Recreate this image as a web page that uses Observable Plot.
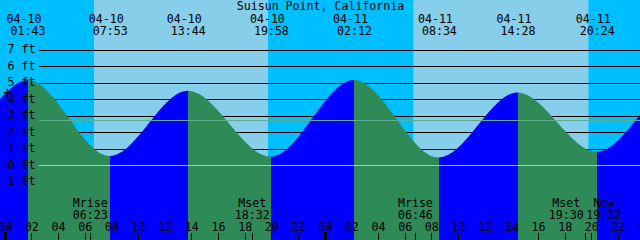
<!DOCTYPE html>
<html><head><meta charset="utf-8">
<script src="https://cdn.jsdelivr.net/npm/d3@7"></script>
<script src="https://cdn.jsdelivr.net/npm/@observablehq/plot@0.6"></script>
<style>html,body{margin:0;padding:0;background:#fff;overflow:hidden} svg{display:block}</style>
</head><body><div id="chart"></div>
<script>
const YEAR = 2021;
const title = "Suisun Point, California";
// tide extremes (local time) and heights in ft
const tideTimes = ["04-10 01:43","04-10 07:53","04-10 13:44","04-10 19:58","04-11 02:12","04-11 08:34","04-11 14:28","04-11 20:24"];
const tideHeights = [5.15, 0.55, 4.5, 0.5, 5.15, 0.45, 4.4, 0.8];
// curve at the left and right edges of the window
const edgeTimes = ["04-09 23:39", "04-11 23:39"];
const edgeHeights = [4.0, 3.05];
const sunriseTimes = ["04-10 06:42", "04-11 06:41"];
const sunsetTimes = ["04-10 19:45", "04-11 19:46"];
const moonTimes = ["04-10 06:23","04-10 18:32","04-11 06:46","04-11 19:30","04-11 19:32"];
const moonNames = ["Mrise","Mset","Mrise","Mset","New"];
const footTicks = [-1,0,1,2,3,4,5,6,7];
const datumHeight = 0;
const mslHeight = 2.7;
const nowTime = "04-10 00:10";
const nowHeight = 4.4;

function t(s){
  const [md, hm] = s.split(" ");
  const [mo, d] = md.split("-").map(Number);
  const [h, m] = hm.split(":").map(Number);
  return new Date(Date.UTC(YEAR, mo - 1, d, h, m));
}

const xDomain = [t(edgeTimes[0]), t(edgeTimes[1])];
const yDomain = [-75 / 16.5, 165 / 16.5];

const tide = [
  {time: t(edgeTimes[0]), height: edgeHeights[0]},
  ...tideTimes.map((s, i) => ({time: t(s), height: tideHeights[i]})),
  {time: t(edgeTimes[1]), height: edgeHeights[1]}
];
const extremes = tideTimes.map((s, i) => ({time: t(s), height: tideHeights[i]}));

const bounds = [xDomain[0]];
sunriseTimes.forEach((s, i) => { bounds.push(t(s)); bounds.push(t(sunsetTimes[i])); });
bounds.push(xDomain[1]);
const sky = d3.pairs(bounds).map(([a, b], i) => ({start: a, end: b, day: i % 2 === 1}));

const moon = moonTimes.map((s, i) => ({time: t(s), name: moonNames[i], shift: 0}));
for (let i = 1; i < moon.length; i++) {
  if (moon[i].time - moon[i - 1].time < 3600e3) { moon[i - 1].shift = -1; moon[i].shift = 1; }
}

const hourTicks = d3.utcHour.every(2).range(t("04-10 00:00"), t("04-12 00:01"));
const midnights = d3.utcDay.range(t("04-10 00:00"), t("04-11 00:01"));

const fmtH = d3.utcFormat("%H");
const fmtD = d3.utcFormat("%m-%d");
const fmtT = d3.utcFormat("%H:%M");

const NIGHT = "#00BFFF", DAY = "#87CEEB", RISE = "#0000FF", FALL = "#2E8B57";

const textOpts = {lineAnchor: "bottom"};

const chart = Plot.plot({
  width: 640, height: 240,
  margin: 0,
  style: {fontFamily: "'DejaVu Sans Mono', monospace", fontSize: "11.6px", background: "none"},
  x: {type: "utc", domain: xDomain, axis: null},
  y: {domain: yDomain, axis: null},
  marks: [
    Plot.rect(sky, {x1: "start", x2: "end", fill: d => d.day ? DAY : NIGHT}),
    Plot.ruleY(footTicks, {y: d => d, insetLeft: 39, stroke: "black", shapeRendering: "crispEdges"}),
    Plot.areaY(tide, {x: "time", y1: yDomain[0], y2: "height", curve: "monotone-x", fill: "url(#tideFill)"}),
    Plot.ruleY([datumHeight], {y: d => d, insetLeft: 39, stroke: "#87CEEB", shapeRendering: "crispEdges"}),
    Plot.ruleY([mslHeight], {y: d => d, insetLeft: 39, stroke: "#5fae8a", shapeRendering: "crispEdges"}),
    // title and tide labels
    Plot.text([title], {frameAnchor: "top", dy: 9.5, text: d => d, ...textOpts}),
    Plot.text(extremes, {x: "time", frameAnchor: "top", dy: 22, dx: -4, text: d => fmtD(d.time), ...textOpts}),
    Plot.text(extremes, {x: "time", frameAnchor: "top", dy: 34, text: d => fmtT(d.time), ...textOpts}),
    // height labels
    Plot.text(footTicks, {y: d => d, frameAnchor: "left", dx: 35, dy: -0.5, textAnchor: "end", text: d => `${d} ft`}),
    // now marker
    Plot.text([{time: t(nowTime), height: nowHeight}], {x: "time", y: "height", text: () => "+", fontSize: 15}),
    // moon events
    ...[[0, 0], [-1, -19], [1, 18]].flatMap(([s, dx]) => {
      const data = moon.filter(d => d.shift === s);
      return [
        Plot.text(data, {x: "time", frameAnchor: "bottom", dy: -34, dx, text: "name", ...textOpts}),
        Plot.text(data, {x: "time", frameAnchor: "bottom", dy: -22, dx, text: d => fmtT(d.time), ...textOpts})
      ];
    }),
    // hour axis
    Plot.text(hourTicks, {x: d => d, frameAnchor: "bottom", dy: -10, text: d => fmtH(d), ...textOpts}),
    Plot.tickX(hourTicks, {x: d => d, insetTop: 233, stroke: "black", shapeRendering: "crispEdges"}),
    Plot.tickX(midnights, {x: d => d, insetTop: 232, stroke: "black", strokeWidth: 3, shapeRendering: "crispEdges"}),
    Plot.tickX(moon, {x: "time", insetTop: 233, stroke: "black", shapeRendering: "crispEdges"})
  ]
});

// rising / falling fill colours along the curve, placed with the x scale
const xs = chart.scale("x");
const defs = d3.select(chart).insert("defs", ":first-child");
const grad = defs.append("linearGradient").attr("id", "tideFill")
  .attr("gradientUnits", "userSpaceOnUse").attr("x1", 0).attr("x2", 640).attr("y1", 0).attr("y2", 0);
d3.pairs(tide).forEach(([a, b]) => {
  const c = b.height > a.height ? RISE : FALL;
  grad.append("stop").attr("offset", Math.max(0, xs.apply(a.time)) / 640).attr("stop-color", c);
  grad.append("stop").attr("offset", Math.min(640, xs.apply(b.time)) / 640).attr("stop-color", c);
});

document.getElementById("chart").appendChild(chart);
</script>
</body></html>
